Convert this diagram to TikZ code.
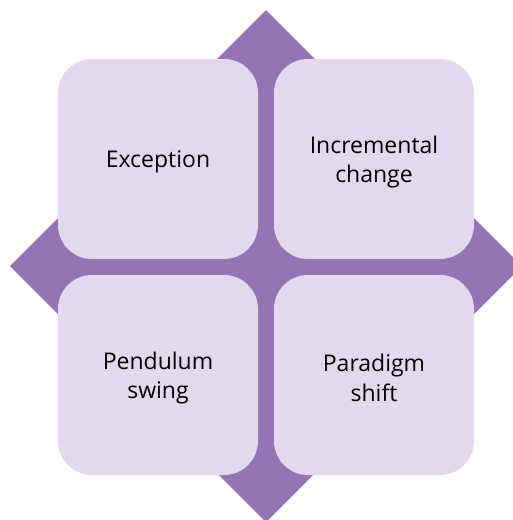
\documentclass[tikz,border=0pt]{standalone}
\usepackage{fontspec}
\setmainfont{Open Sans}
\definecolor{diam}{HTML}{9474B4}
\definecolor{boxfill}{HTML}{E2DAEC}
\begin{document}
\begin{tikzpicture}[x=1pt,y=-1pt,
  box/.style={draw=none,fill=boxfill,rounded corners=34pt,minimum width=200pt,minimum height=200pt,inner sep=0pt},
  lbl/.style={align=center,font=\fontsize{23}{29.5}\selectfont,text=black}]
\useasboundingbox (0,0) rectangle (513,520);
\clip (0,0) rectangle (513,520);
\fill[diam] (266,10) -- (522,266) -- (266,522) -- (10,266) -- cycle;
\node[box] (tl) at (158,159) {};
\node[box] (tr) at (374,159) {};
\node[box] (bl) at (158,375) {};
\node[box] (br) at (374,375) {};
\node[lbl] (tlt) at ([yshift=-3pt]tl.center) {Exception};
\node[lbl] (trt) at ([yshift=-3pt]tr.center) {Incremental\\change};
\node[lbl] (blt) at ([yshift=-3pt]bl.center) {Pendulum\\swing};
\node[lbl] (brt) at ([yshift=-3pt]br.center) {Paradigm\\shift};
\end{tikzpicture}
\end{document}
